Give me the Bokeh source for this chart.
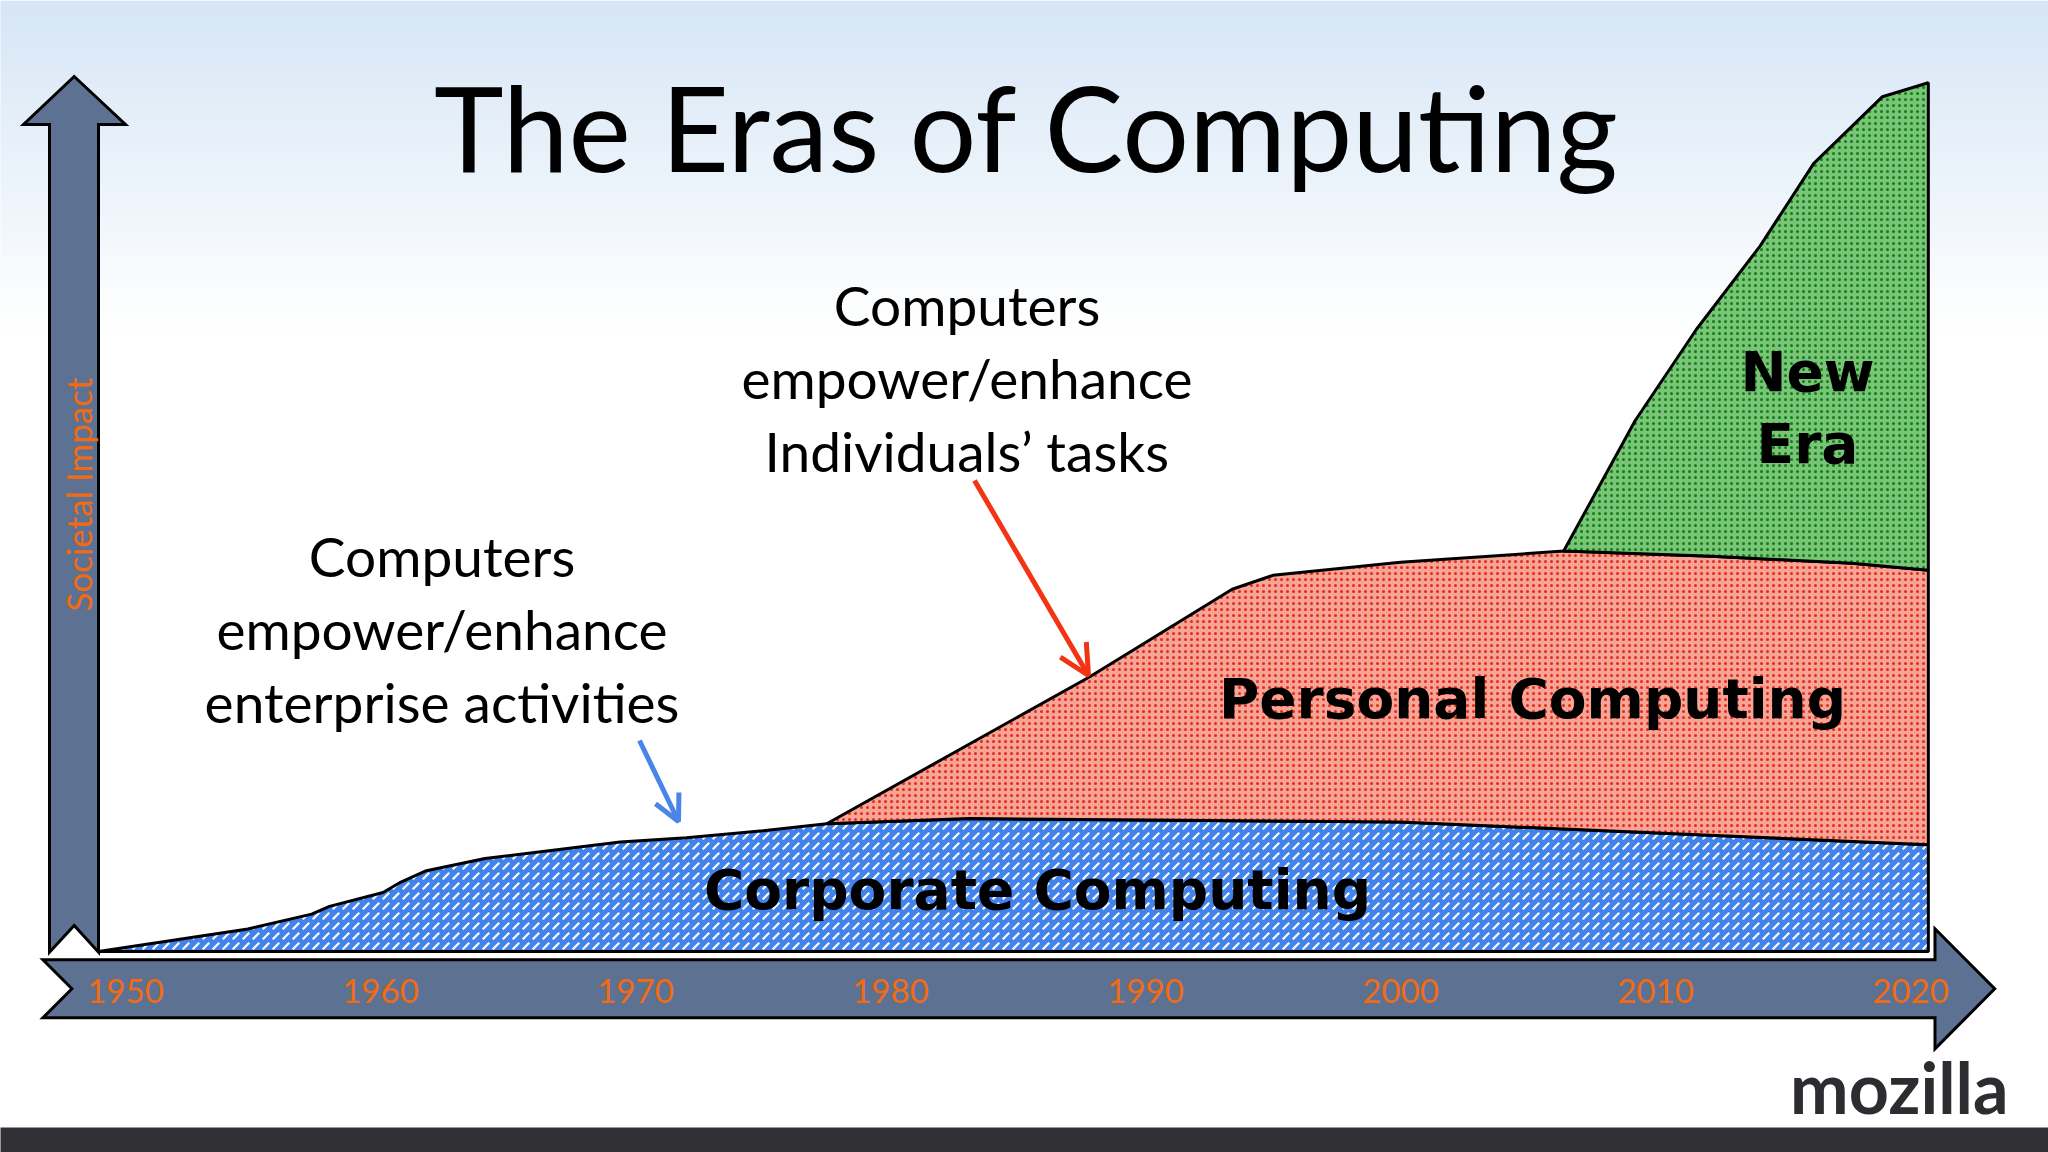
import numpy as np
from bokeh.plotting import figure
from bokeh.models import Range1d, Arrow, OpenHead
from bokeh.core.properties import value
from bokeh.embed import file_html
from bokeh.resources import INLINE

# ---------------- data (year vs. societal impact, arbitrary units) ----------------
corp_years = [1948.94, 1954.8, 1957.3, 1958.0, 1960.1, 1960.8, 1961.8, 1964.1, 1969.4,
              1972.0, 1975.0, 1977.5, 1983.1, 2000.0, 2020.7]
corp_impact = [0.0, 2.6, 4.3, 5.2, 6.8, 8.0, 9.3, 10.7, 12.6, 13.1, 13.9, 14.7, 15.3, 14.9, 12.3]

pc_years = [1977.5, 1987.8, 1993.4, 1995.0, 2000.0, 2006.4, 2012.2, 2017.7, 2020.7]
pc_impact = [14.7, 31.6, 41.7, 43.3, 44.8, 46.1, 45.5, 44.7, 43.9]

ne_years = [2006.4, 2009.2, 2011.6, 2014.1, 2016.2, 2018.9, 2020.7]
ne_impact = [46.1, 61.1, 71.6, 81.2, 90.7, 98.4, 100.0]

tick_years = [1950, 1960, 1970, 1980, 1990, 2000, 2010, 2020]
tick_labels = ["1950", "1960", "1970", "1980", "1990", "2000", "2010", "2020"]

title_text = "The Eras of Computing"
block1_lines = ["Computers", "empower/enhance", "enterprise activities"]
block2_lines = ["Computers", "empower/enhance", "Individuals\u2019 tasks"]
era_labels = ["Corporate Computing", "Personal Computing", "New", "Era"]

# ---------------- layout helpers (reference pixel -> data) ----------------
W, H = 2048, 1152


def fx(px):
    return 1950 + (px - 125) / 25.5


def fy(py):
    return (951 - py) / 8.687


def fb(py, size, k=0.38):
    # alphabetic baseline position compensated for the renderer's text offset
    return fy(py - k * size)


p = figure(width=W, height=H, x_range=Range1d(fx(0), fx(W)),
           y_range=Range1d(fy(H), fy(0)), output_backend="svg",
           toolbar_location=None, min_border=0,
           x_axis_location=None, y_axis_location=None)
p.grid.visible = False
p.outline_line_color = None
p.background_fill_color = "white"
p.border_fill_color = "white"

# background gradient at top
n = 48
g0, g1 = 0.0, 330.0
c0 = np.array([214, 230, 246])
c1 = np.array([255, 255, 255])
tops, bots, cols = [], [], []
for i in range(n):
    a = g0 + i * (g1 - g0) / n
    b = g0 + (i + 1) * (g1 - g0) / n
    t = (i + 0.5) / n
    c = (c0 + (c1 - c0) * t).astype(int)
    tops.append(fy(a))
    bots.append(fy(b + 1))
    cols.append("#%02x%02x%02x" % tuple(c))
p.quad(left=[fx(-5)] * n, right=[fx(2060)] * n, top=tops, bottom=bots,
       fill_color=cols, line_color=None)

# bottom dark band
p.quad(left=[fx(-5)], right=[fx(2060)], top=[fy(1127)], bottom=[fy(1170)],
       fill_color="#313034", line_color=None)

# ---------------- axes arrows ----------------
arrow_fill = "#5d7292"
vx = [73.7, 125, 98, 98, 73.7, 49, 49, 23]
vy = [76, 124, 124, 951.7, 925, 951.7, 124, 124]
p.patch([fx(v) for v in vx], [fy(v) for v in vy], fill_color=arrow_fill,
        line_color="black", line_width=3, line_join="miter")

hx = [42.4, 1934.5, 1934.5, 1994.2, 1934.5, 1934.5, 42.4, 71.4]
hy = [959.3, 959.3, 928.3, 988.3, 1048.3, 1017.3, 1017.3, 988.3]
p.patch([fx(v) for v in hx], [fy(v) for v in hy], fill_color=arrow_fill,
        line_color="black", line_width=3, line_join="miter")

p.text(x=tick_years, y=[fb(1003, 33)] * len(tick_years), text=tick_labels,
       text_font=value("Lato"), text_font_size="33px", text_color="#f26b12",
       text_align="center", text_baseline="alphabetic")

p.text(x=[fx(77)], y=[fy(494)], text=["Societal Impact"], angle=np.pi / 2,
       text_font=value("Lato"), text_font_size="35px", text_color="#f26b12",
       text_align="center", text_baseline="middle")


# ---------------- stacked areas ----------------
def band(top_x, top_y, base_x, base_y):
    lo, hi = top_x[0], top_x[-1]
    bx = [x for x in base_x if lo < x < hi]
    by = [y for x, y in zip(base_x, base_y) if lo < x < hi]
    xs = list(top_x) + [hi] + bx[::-1] + [lo]
    ys = (list(top_y) + [float(np.interp(hi, base_x, base_y))] + by[::-1]
          + [float(np.interp(lo, base_x, base_y))])
    return xs, ys


bx_, by_ = band(corp_years, corp_impact, [corp_years[0], corp_years[-1]], [0, 0])
p.patch(bx_, by_, fill_color="#4282ec", hatch_pattern="right_diagonal_dash",
        hatch_color="white", hatch_scale=10, hatch_weight=2.2,
        line_color="black", line_width=3)

rx_, ry_ = band(pc_years, pc_impact, corp_years, corp_impact)
p.patch(rx_, ry_, fill_color="#f5a497", hatch_pattern="dot",
        hatch_color="#e62a12", hatch_scale=6, hatch_weight=5,
        line_color="black", line_width=3)

gx_, gy_ = band(ne_years, ne_impact, pc_years, pc_impact)
p.patch(gx_, gy_, fill_color="#7ac47a", hatch_pattern="dot",
        hatch_color="#0d800d", hatch_scale=6, hatch_weight=5,
        line_color="black", line_width=3)

# ---------------- labels ----------------
HS = 55
heavy = dict(text_font=value("DejaVu Sans"), text_font_style="bold",
             text_font_size=f"{HS}px", text_color="black",
             text_align="center", text_baseline="alphabetic")
p.text(x=[fx(1037), fx(1532), fx(1807), fx(1807)],
       y=[fb(911, HS, 0.40), fb(720, HS, 0.40), fb(393, HS, 0.40), fb(465, HS, 0.40)],
       text=era_labels, **heavy)

TS = 118
p.text(x=[fx(1026.6)], y=[fb(170.7, TS)], text=[title_text],
       text_font=value("Lato"), text_font_size=f"{TS}px", text_color="black",
       text_align="center", text_baseline="alphabetic")

BS = 55
body = dict(text_font=value("Lato"), text_font_size=f"{BS}px", text_color="black",
            text_align="center", text_baseline="alphabetic")
p.text(x=[fx(441.5)] * 3, y=[fb(576, BS), fb(649, BS), fb(722, BS)], text=block1_lines, **body)
p.text(x=[fx(966.5)] * 3, y=[fb(325, BS), fb(398, BS), fb(471, BS)], text=block2_lines, **body)

MS = 70
p.text(x=[fx(2008)], y=[fb(1113, MS)], text=["mozilla"],
       text_font=value("Lato"), text_font_style="bold", text_font_size=f"{MS}px",
       text_color="#2d2c31", text_align="right", text_baseline="alphabetic")

# annotation arrows
p.add_layout(Arrow(end=OpenHead(size=30, line_color="#f23314", line_width=5),
                   x_start=fx(974), y_start=fy(480), x_end=fx(1088), y_end=fy(675),
                   line_color="#f23314", line_width=5))
p.add_layout(Arrow(end=OpenHead(size=26, line_color="#4a86e8", line_width=5),
                   x_start=fx(639), y_start=fy(740), x_end=fx(678), y_end=fy(821),
                   line_color="#4a86e8", line_width=5))

open("out.html", "w").write(file_html(p, INLINE))
